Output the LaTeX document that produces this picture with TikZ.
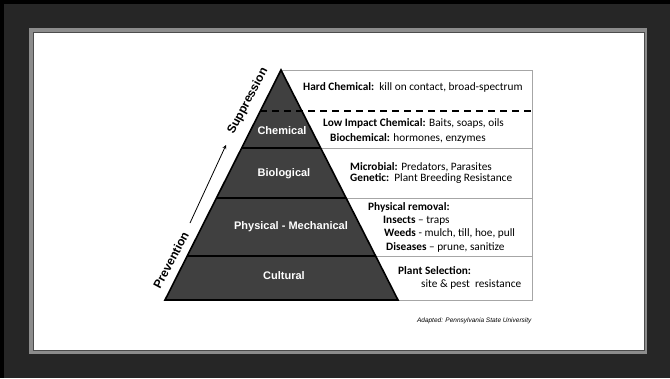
\documentclass[tikz,border=0pt]{standalone}
\usepackage{fontspec}
\setmainfont{Carlito}
\newfontfamily\arialfont{Liberation Sans}
\usetikzlibrary{calc}
\definecolor{framegray}{HTML}{262626}
\definecolor{bordergray}{HTML}{8C8C8C}
\definecolor{pyrgray}{HTML}{404040}
\definecolor{rulegray}{HTML}{A6A6A6}
\tikzstyle{arrow} = [->,>=stealth]
\tikzstyle{tier} = [font=\arialfont\fontsize{11}{13}\selectfont\bfseries,text=white]
\tikzstyle{side} = [font=\arialfont\fontsize{12}{14}\selectfont\bfseries,rotate=62]
\tikzstyle{info} = [anchor=west,align=left,inner sep=0pt,font=\fontsize{11.3}{13.3}\selectfont]
\tikzstyle{rule} = [rulegray,line width=0.8pt]

\begin{document}
\begin{tikzpicture}[x=1pt,y=-1pt]
        \useasboundingbox (0,0) rectangle (670,378);
        % frame
        \fill[framegray] (0,0) rectangle (670,378);
        \fill[black] (0,0) rectangle (670,4);
        \fill[black] (0,0) rectangle (4,378);
        \fill[bordergray] (29,28) rectangle (647,354);
        \filldraw[fill=white,draw=black!70,line width=0.8pt] (33,32) rectangle (644,350);

        % pyramid
        \coordinate (apex) at (281,70);
        \coordinate (bl) at (165,300);
        \coordinate (br) at (398,300);
        \coordinate (tr) at (532,70);
        \coordinate (l1) at ($(apex)!0.178!(bl)$);
        \coordinate (r1) at ($(apex)!0.178!(br)$);
        \coordinate (l2) at ($(apex)!0.339!(bl)$);
        \coordinate (r2) at ($(apex)!0.339!(br)$);
        \coordinate (l3) at ($(apex)!0.557!(bl)$);
        \coordinate (r3) at ($(apex)!0.557!(br)$);
        \coordinate (l4) at ($(apex)!0.809!(bl)$);
        \coordinate (r4) at ($(apex)!0.809!(br)$);

        % table
        \draw[rule] (apex) -- (tr) -- (br -| tr) -- (br);
        \draw[rule] (r2) -- (r2 -| tr);
        \draw[rule] (r3) -- (r3 -| tr);
        \draw[rule] (r4) -- (r4 -| tr);

        \filldraw[fill=pyrgray,draw=black,line width=1.6pt,line join=miter] (apex) -- (bl) -- (br) -- cycle;
        \draw[black,line width=1.5pt] (l2) -- (r2);
        \draw[black,line width=1.5pt] (l3) -- (r3);
        \draw[black,line width=1.5pt] (l4) -- (r4);
        \draw[black,line width=1.5pt,dash pattern=on 7pt off 5pt] (l1) -- (r1 -| tr);

        \node[tier] (chem) at (282,131) {Chemical};
        \node[tier] (bio) at (284,174) {Biological};
        \node[tier] (phys) at (291,227) {Physical - Mechanical};
        \node[tier] (cult) at (284,276) {Cultural};

        % left side
        \node[side] (prev) at (171,260) {Prevention};
        \node[side] (supp) at (248,101) {Suppression};
        \coordinate (a1) at (190,223);
        \coordinate (a2) at (226,145);
        \draw[arrow,line width=0.8pt] (a1) -- (a2);

        % right side
        \node[info] (hard) at (303,87) {\textbf{Hard Chemical:}\ \ kill on contact, broad-spectrum};
        \node[info] (low) at (323,131) {\textbf{Low Impact Chemical:} Baits, soaps, oils\\[1.5pt]
                \hspace*{7pt}\textbf{Biochemical:} hormones, enzymes};
        \node[info] (micro) at (350,173) {\textbf{Microbial:} Predators, Parasites\\[-1.5pt]
                \textbf{Genetic:}\ \ Plant Breeding Resistance};
        \node[info] (remov) at (368,227) {\textbf{Physical removal:}\\
                \hspace*{15pt}\textbf{Insects} -- traps\\
                \hspace*{16pt}\textbf{Weeds} - mulch, till, hoe, pull\\
                \hspace*{18pt}\textbf{Diseases} -- prune, sanitize};
        \node[info] (plant) at (398,278) {\textbf{Plant Selection:}\\
                \hspace*{23pt}site \& pest\ \ resistance};

        \node[font=\arialfont\fontsize{6.5}{8}\selectfont\itshape,anchor=east] (src) at (535,321) {Adapted: Pennsylvania State University};
\end{tikzpicture}
\end{document}
